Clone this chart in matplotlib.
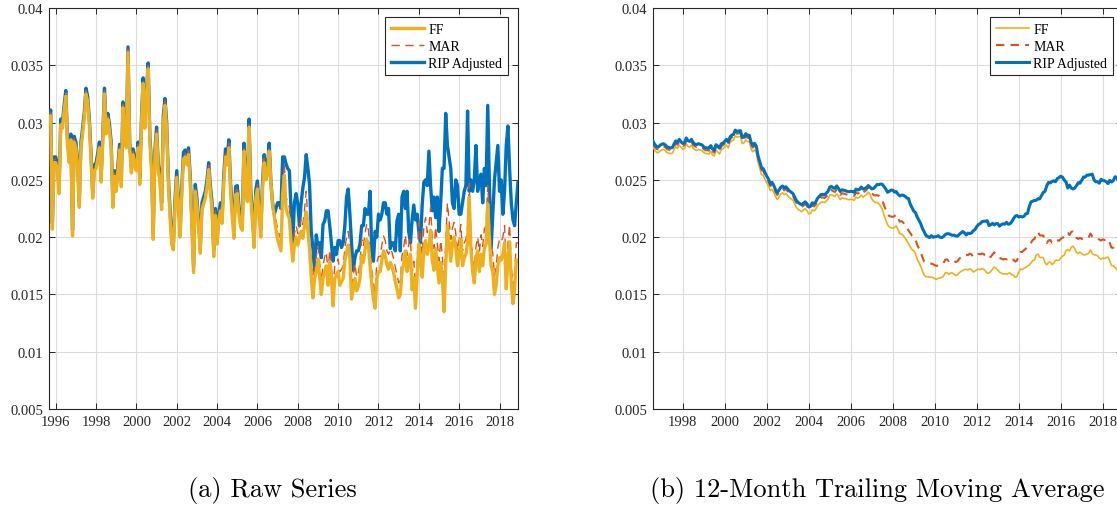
import numpy as np
import pandas as pd
import matplotlib
matplotlib.use("Agg")
import matplotlib.pyplot as plt
from matplotlib.ticker import FixedLocator, FuncFormatter

# ---------------- data (monthly, Sep 1995 - Dec 2018), values in units of 1e-5 ----------------
start_year, start_month = 1995, 9

ff_e5 = [
    3000, 3060, 2070, 2650, 2650, 2580, 2380, 2980, 2950, 3100,
    3230, 2800, 2650, 2850, 2010, 2830, 2780, 2620, 2260, 2780,
    2900, 3040, 3250, 3180, 2980, 2680, 2340, 2580, 2600, 2680,
    2780, 2480, 2840, 3250, 2900, 3030, 2930, 2780, 2260, 2530,
    2400, 2580, 2760, 2440, 3130, 2880, 2780, 3610, 2780, 2560,
    2720, 2620, 2580, 2780, 2460, 2980, 3340, 2950, 3230, 3470,
    2830, 2580, 1980, 2700, 2900, 2580, 2480, 2240, 3000, 3150,
    2940, 2460, 2180, 1940, 1890, 2280, 2520, 2280, 2000, 2380,
    2680, 2700, 2630, 2720, 2480, 2080, 1690, 2400, 2280, 2080,
    1860, 2240, 2290, 2340, 2440, 2590, 2390, 2240, 1830, 2190,
    1940, 2140, 2230, 2120, 2480, 2700, 2630, 2780, 2400, 2180,
    1990, 2370, 2380, 2200, 2090, 2060, 2750, 2430, 2310, 2960,
    2350, 2140, 1910, 2340, 2420, 2180, 2000, 2400, 2650, 2500,
    2550, 2750, 2480, 2280, 2180, 2070, 1980, 1930, 1880, 2380,
    2540, 2250, 2200, 2160, 1950, 1790, 1930, 2000, 1930, 2000,
    2050, 1990, 2100, 2220, 2050, 1900, 1650, 1470, 1640, 1700,
    1810, 1650, 1500, 1640, 1700, 1750, 1580, 1780, 1650, 1400,
    1640, 1670, 1700, 1580, 1610, 1640, 1790, 1870, 1930, 1810,
    1460, 1550, 1640, 1530, 1570, 1640, 1840, 1780, 1890, 1980,
    1930, 1750, 1590, 1460, 1380, 1640, 1700, 1700, 1800, 1880,
    1840, 1760, 1720, 1780, 1740, 1690, 1610, 1550, 1470, 1500,
    1700, 1770, 1880, 1700, 1800, 1850, 1540, 1650, 1380, 1650,
    1940, 1800, 1650, 1900, 1970, 1850, 1900, 2060, 1800, 1710,
    1900, 1750, 1600, 1780, 1650, 1350, 1750, 2100, 1950, 1790,
    1950, 2000, 1900, 1750, 1850, 1980, 1750, 1820, 1850, 1950,
    2350, 1900, 1700, 1600, 1800, 1880, 1700, 1850, 1750, 1900,
    1940, 2290, 1980, 1750, 1700, 1500, 1580, 1750, 1820, 1800,
    1850, 1950, 1550, 1800, 1960, 1600, 1420, 1550, 1800, 1800,
]

mar_e5 = [
    3030, 3090, 2100, 2680, 2680, 2610, 2410, 3010, 2980, 3130,
    3260, 2830, 2680, 2880, 2040, 2860, 2810, 2650, 2290, 2810,
    2930, 3070, 3280, 3210, 3010, 2710, 2370, 2610, 2630, 2710,
    2810, 2510, 2870, 3280, 2930, 3060, 2960, 2810, 2290, 2560,
    2430, 2610, 2790, 2470, 3160, 2910, 2810, 3640, 2810, 2590,
    2750, 2650, 2610, 2810, 2490, 3010, 3370, 2980, 3260, 3500,
    2860, 2620, 2020, 2740, 2940, 2620, 2520, 2280, 3040, 3190,
    2980, 2500, 2220, 1980, 1930, 2320, 2560, 2320, 2040, 2420,
    2720, 2740, 2670, 2760, 2520, 2120, 1730, 2440, 2320, 2120,
    1900, 2280, 2330, 2380, 2480, 2630, 2430, 2280, 1870, 2230,
    1980, 2180, 2270, 2160, 2520, 2740, 2670, 2820, 2440, 2220,
    2030, 2410, 2420, 2240, 2130, 2100, 2790, 2470, 2350, 3000,
    2390, 2180, 1950, 2380, 2460, 2220, 2040, 2440, 2690, 2540,
    2590, 2790, 2520, 2320, 2250, 2150, 2070, 2020, 1980, 2470,
    2640, 2350, 2300, 2260, 2050, 1890, 2030, 2100, 2030, 2100,
    2160, 2110, 2240, 2400, 2150, 2000, 1800, 1580, 1760, 1830,
    1920, 1780, 1610, 1750, 1830, 1870, 1700, 1890, 1750, 1530,
    1760, 1780, 1810, 1700, 1720, 1750, 1900, 2000, 2050, 1920,
    1570, 1670, 1770, 1650, 1690, 1780, 1980, 1920, 2030, 2120,
    2060, 1880, 1720, 1590, 1510, 1780, 1830, 1830, 1930, 2010,
    1970, 1880, 1850, 1900, 1870, 1810, 1740, 1670, 1600, 1620,
    1840, 1910, 2020, 1840, 1940, 1990, 1680, 1790, 1530, 1790,
    2130, 1990, 1840, 2090, 2170, 2040, 2090, 2260, 1990, 1900,
    2090, 1940, 1790, 1970, 1840, 1540, 1940, 2300, 2140, 1980,
    2080, 2130, 2030, 1880, 1980, 2110, 1880, 1950, 1980, 2080,
    2470, 2020, 1820, 1720, 1920, 2000, 1870, 2020, 1920, 2070,
    2100, 2450, 2140, 1910, 1860, 1660, 1740, 1910, 1980, 1960,
    2000, 2100, 1700, 1950, 2110, 1750, 1570, 1700, 1950, 1950,
]

rip_e5 = [
    3050, 3110, 2120, 2700, 2700, 2630, 2430, 3030, 3000, 3150,
    3280, 2850, 2700, 2900, 2060, 2880, 2830, 2670, 2310, 2830,
    2950, 3090, 3300, 3230, 3030, 2730, 2390, 2630, 2650, 2730,
    2830, 2530, 2890, 3300, 2950, 3080, 2980, 2830, 2310, 2580,
    2450, 2630, 2810, 2490, 3180, 2930, 2830, 3660, 2830, 2610,
    2770, 2670, 2630, 2830, 2510, 3030, 3390, 3000, 3280, 3520,
    2880, 2640, 2040, 2760, 2960, 2640, 2540, 2300, 3060, 3210,
    3000, 2520, 2240, 2000, 1950, 2340, 2580, 2340, 2060, 2440,
    2740, 2760, 2690, 2780, 2540, 2140, 1750, 2460, 2340, 2140,
    1920, 2300, 2350, 2400, 2500, 2650, 2450, 2300, 1890, 2250,
    2000, 2210, 2300, 2190, 2550, 2770, 2700, 2850, 2470, 2250,
    2060, 2440, 2450, 2270, 2160, 2130, 2820, 2500, 2380, 3030,
    2420, 2210, 1980, 2410, 2490, 2250, 2070, 2470, 2720, 2570,
    2620, 2820, 2480, 2300, 2200, 2250, 2300, 2300, 2250, 2700,
    2700, 2640, 2600, 2580, 2230, 1950, 2300, 2380, 2290, 2100,
    2300, 2430, 2520, 2720, 2600, 2460, 2050, 1900, 1710, 2020,
    1910, 1950, 1820, 2110, 2140, 2230, 2230, 2100, 1940, 1790,
    1910, 1850, 1970, 1970, 1910, 1950, 2100, 2350, 2420, 2200,
    1940, 1710, 1820, 1880, 1880, 1940, 2100, 2100, 2250, 2200,
    2200, 2400, 1880, 1790, 2050, 2000, 2200, 2150, 2200, 2300,
    2300, 2200, 2250, 1900, 1950, 1950, 1880, 2140, 2200, 1880,
    2350, 2400, 2250, 2400, 2050, 1950, 2150, 2280, 2150, 2200,
    2050, 1950, 2280, 2480, 2500, 2450, 2750, 2450, 2230, 2350,
    2170, 2350, 2050, 2300, 2600, 2600, 3080, 2800, 2700, 2600,
    2300, 2250, 2500, 2450, 2200, 2200, 2300, 2400, 2450, 3100,
    2400, 2500, 2400, 2500, 2800, 2400, 2500, 2550, 2300, 2600,
    2450, 3150, 2450, 1900, 2200, 2500, 2650, 2800, 2400, 2500,
    2200, 2400, 2800, 2970, 2600, 2300, 2150, 2100, 2300, 2480,
]

series_names = ["FF", "MAR", "RIP Adjusted"]
ma_window = 12
left_years = list(range(1996, 2019, 2))
right_years = list(range(1998, 2019, 2))
y_ticks = [0.005, 0.01, 0.015, 0.02, 0.025, 0.03, 0.035, 0.04]
captions = ["(a) Raw Series", "(b) 12-Month Trailing Moving Average"]

assert len(ff_e5) == len(mar_e5) == len(rip_e5) == 280

# ---------------- derived ----------------
n = len(ff_e5)
t = start_year + (start_month - 1) / 12 + np.arange(n) / 12
raw = pd.DataFrame({"FF": np.array(ff_e5) * 1e-5,
                    "MAR": np.array(mar_e5) * 1e-5,
                    "RIP": np.array(rip_e5) * 1e-5}, index=t)
ma = raw.rolling(ma_window).mean().dropna()

C_FF = "#EDB120"
C_MAR = "#D95319"
C_RIP = "#0072BD"
AXC = "#262626"

plt.rcParams["font.family"] = ["Liberation Serif", "DejaVu Serif"]

W, H = 1117, 506
fig = plt.figure(figsize=(W / 100, H / 100), dpi=100)
ax1 = fig.add_axes([49 / W, 96 / H, 469 / W, 401 / H])
ax2 = fig.add_axes([653 / W, 96 / H, 469 / W, 401 / H])


def style(ax, xticks):
    ax.set_ylim(0.005, 0.04)
    ax.yaxis.set_major_locator(FixedLocator(y_ticks))
    ax.yaxis.set_major_formatter(FuncFormatter(lambda v, p: f"{v:g}"))
    ax.xaxis.set_major_locator(FixedLocator(xticks))
    ax.xaxis.set_major_formatter(FuncFormatter(lambda v, p: f"{int(round(v))}"))
    ax.grid(True, color="#dcdcdc", linewidth=0.8)
    ax.set_axisbelow(True)
    ax.tick_params(direction="in", length=4, width=0.7, color=AXC,
                   labelsize=10.5, labelcolor=AXC, top=True, right=True, pad=4)
    for s in ax.spines.values():
        s.set_color(AXC)
        s.set_linewidth(0.8)


def add_legend(ax, handles, right_px):
    leg = ax.legend(handles, series_names, loc="upper right",
                    bbox_to_anchor=(right_px / 469, (401 - 9) / 401),
                    fontsize=10, frameon=True, fancybox=False, edgecolor=AXC,
                    framealpha=1, handlelength=2.4, handletextpad=0.3,
                    borderpad=0.4, labelspacing=0.3, borderaxespad=0)
    leg.get_frame().set_linewidth(0.8)
    return leg


# left: raw series
l_rip, = ax1.plot(raw.index, raw["RIP"], color=C_RIP, lw=2.4, zorder=3)
l_mar, = ax1.plot(raw.index, raw["MAR"], color=C_MAR, lw=1.0, dashes=(6, 4), zorder=4)
l_ff, = ax1.plot(raw.index, raw["FF"], color=C_FF, lw=2.4, zorder=5)
ax1.set_xlim(raw.index[0], raw.index[-1])
style(ax1, left_years)
add_legend(ax1, [l_ff, l_mar, l_rip], 508 - 49)

# right: 12-month trailing moving average
r_ff, = ax2.plot(ma.index, ma["FF"], color=C_FF, lw=1.2, zorder=3)
r_mar, = ax2.plot(ma.index, ma["MAR"], color=C_MAR, lw=1.5, dashes=(4, 3), zorder=4)
r_rip, = ax2.plot(ma.index, ma["RIP"], color=C_RIP, lw=2.2, zorder=5)
ax2.set_xlim(ma.index[0], ma.index[-1])
style(ax2, right_years)
add_legend(ax2, [r_ff, r_mar, r_rip], 1113 - 653)

fig.text(272 / W, (H - 497) / H, captions[0], fontfamily="cmr10", fontsize=19,
         ha="center", va="baseline")
fig.text(877 / W, (H - 497) / H, captions[1], fontfamily="cmr10", fontsize=19,
         ha="center", va="baseline")

fig.savefig("out.png", dpi=100)
